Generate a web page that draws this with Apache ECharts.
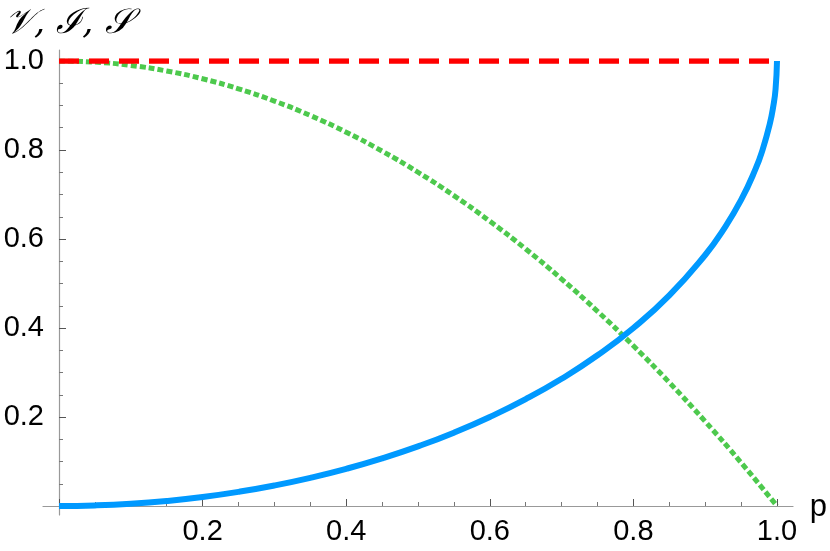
<!DOCTYPE html>
<html><head><meta charset="utf-8">
<script src="https://cdn.jsdelivr.net/npm/echarts@6/dist/echarts.min.js"></script>
<style>html,body{margin:0;padding:0;background:#fff}#c{width:830px;height:551px}</style>
</head><body><div id="c"></div>
<script>
// Data
const blueP = [0,0.05,0.1,0.15,0.2,0.25,0.3,0.35,0.4,0.45,0.5,0.55,0.6,0.65,0.7,0.75,0.8,0.85,0.9,0.925,0.95,0.97,0.98,0.99,0.995,0.998,1.0];
const blueV = [0,0.0013,0.005,0.0113,0.0202,0.0318,0.0461,0.0633,0.0835,0.107,0.134,0.1648,0.2,0.2401,0.2859,0.3386,0.4,0.4732,0.5641,0.6201,0.6878,0.7569,0.801,0.8589,0.9001,0.9368,1.0];
const greenP = [0,0.05,0.1,0.15,0.2,0.25,0.3,0.35,0.4,0.45,0.5,0.55,0.6,0.65,0.7,0.75,0.8,0.85,0.9,0.95,1.0];
const greenV = [1,0.9975,0.99,0.9775,0.96,0.9375,0.91,0.8775,0.84,0.7975,0.75,0.6975,0.64,0.5775,0.51,0.4375,0.36,0.2775,0.19,0.0975,0];
const redP = [0,1];
const redV = [1,1];
const xTickLabels = ['0.2','0.4','0.6','0.8','1.0'];
const yTickLabels = ['0.2','0.4','0.6','0.8','1.0'];

const zip = (a,b)=>a.map((v,i)=>[v,b[i]]);
const chart = echarts.init(document.getElementById('c'));
const labelFont = {fontFamily:'Liberation Sans, Arial, sans-serif', fontSize:29, color:'#000'};
const fmt = v => { const s = v.toFixed(1); return (xTickLabels.indexOf(s)>=0 && v>0.001) ? s : ''; };
const fmtY = v => { const s = v.toFixed(1); return (yTickLabels.indexOf(s)>=0 && v>0.001) ? s : ''; };
chart.setOption({
  animation:false,
  title:{text:'𝒱, ℐ, 𝒮', left:0, top:1, textStyle:{fontFamily:'DejaVu Serif, serif', fontStyle:'italic', fontWeight:'normal', fontSize:35, color:'#000'}},
  grid:[
    {left:59, right:53, top:61, bottom:45},
    {left:43, right:37, top:50, bottom:36}
  ],
  xAxis:[
    {gridIndex:0, type:'value', min:0, max:1, interval:0.2,
     axisLine:{show:false}, splitLine:{show:false},
     axisTick:{show:true, inside:true, length:7, lineStyle:{color:'#555'}},
     minorTick:{show:true, splitNumber:4, length:4, lineStyle:{color:'#777'}},
     axisLabel:Object.assign({formatter:fmt, margin:11}, labelFont)},
    {gridIndex:1, type:'value', min:-0.0223, max:1.0223,
     axisLine:{show:true, onZero:true, lineStyle:{color:'#999', width:1.2}},
     axisTick:{show:false}, axisLabel:{show:false}, splitLine:{show:false}}
  ],
  yAxis:[
    {gridIndex:0, type:'value', min:0, max:1, interval:0.2,
     axisLine:{show:false}, splitLine:{show:false},
     axisTick:{show:true, inside:true, length:7, lineStyle:{color:'#555'}},
     minorTick:{show:true, splitNumber:4, length:4, lineStyle:{color:'#777'}},
     axisLabel:Object.assign({formatter:fmtY, margin:15}, labelFont)},
    {gridIndex:1, type:'value', min:-0.0202, max:1.0247,
     axisLine:{show:true, onZero:true, lineStyle:{color:'#999', width:1.2}},
     axisTick:{show:false}, axisLabel:{show:false}, splitLine:{show:false}}
  ],
  graphic:[{type:'text', right:3, top:492, style:{text:'p', fontFamily:'Liberation Sans, Arial, sans-serif', fontSize:31, fill:'#000'}}],
  series:[
    {type:'line', xAxisIndex:0, yAxisIndex:0, data:zip(greenP,greenV), symbol:'none', smooth:true,
     lineStyle:{color:'#4dc94d', width:5, type:[6,3]}},
    {type:'line', xAxisIndex:0, yAxisIndex:0, data:zip(redP,redV), symbol:'none',
     lineStyle:{color:'#ff0000', width:5.5, type:[20,10]}},
    {type:'line', xAxisIndex:0, yAxisIndex:0, data:zip(blueP,blueV), symbol:'none', smooth:true,
     lineStyle:{color:'#0099ff', width:6}}
  ]
});
</script></body></html>
